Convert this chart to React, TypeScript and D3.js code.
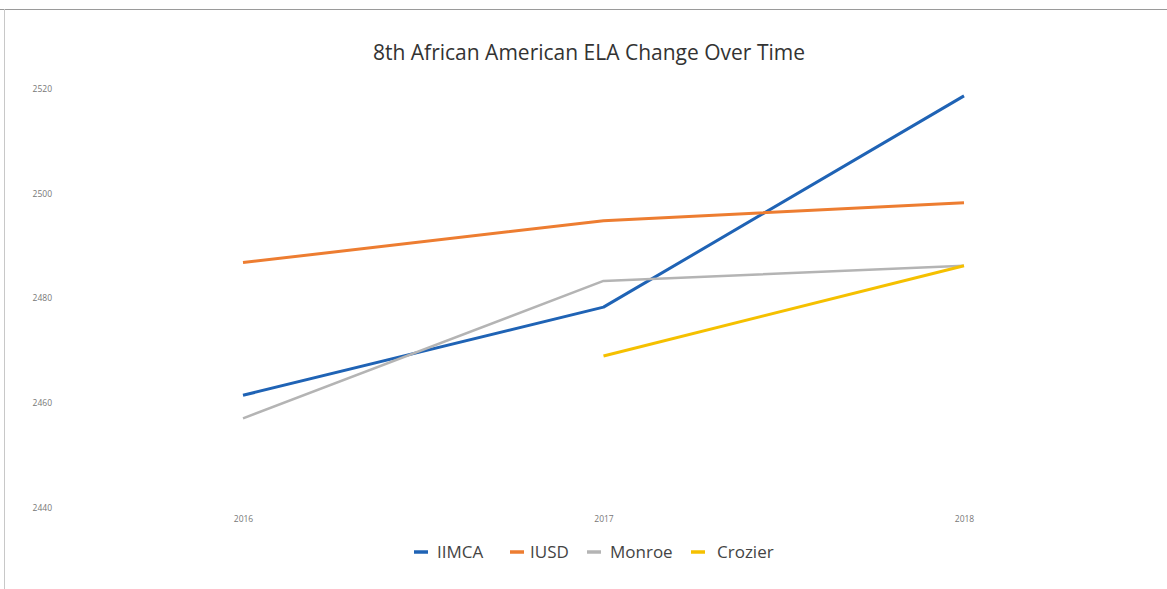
import React, { useEffect, useRef } from "react";
import * as d3 from "d3";

const years = ["2016", "2017", "2018"];
const yTicks = [2440, 2460, 2480, 2500, 2520];
const iimca = [2461.5, 2478.3, 2518.6];
const iusd = [2486.8, 2494.8, 2498.2];
const monroe = [2457.1, 2483.3, 2486.2];
const crozier: (number | null)[] = [null, 2469.0, 2486.2];

const seriesNames = ["IIMCA", "IUSD", "Monroe", "Crozier"];
const seriesColors = ["#1f63b5", "#ed7d31", "#b4b4b4", "#f5c000"];

const W = 1167;
const H = 589;

export default function App() {
  const ref = useRef<SVGSVGElement>(null);
  useEffect(() => {
    const svg = d3.select(ref.current);
    svg.selectAll("*").remove();

    svg.append("rect").attr("width", W).attr("height", H).attr("fill", "#fff");
    // faint scanned border
    svg.append("line").attr("x1", 0).attr("x2", W).attr("y1", 9.5).attr("y2", 9.5)
      .attr("stroke", "#9a9a9a").attr("stroke-width", 1);
    svg.append("line").attr("x1", 4.5).attr("x2", 4.5).attr("y1", 9).attr("y2", H)
      .attr("stroke", "#c8c8c8").attr("stroke-width", 1);

    const x = d3.scalePoint<string>().domain(years).range([243, 964]);
    const y = d3.scaleLinear().domain([2440, 2520]).range([508, 88.5]);

    svg.append("text").attr("x", 589).attr("y", 60).attr("text-anchor", "middle")
      .attr("font-family", "'Open Sans', sans-serif").attr("font-size", 21)
      .attr("fill", "#333").text("8th African American ELA Change Over Time");

    const yAxis = d3.axisLeft(y).tickValues(yTicks).tickSize(0).tickFormat(d3.format("d"));
    const gy = svg.append("g").attr("transform", "translate(55,0)").call(yAxis);
    gy.select(".domain").remove();
    gy.selectAll("text").attr("font-family", "'Open Sans', sans-serif")
      .attr("font-size", 8.5).attr("fill", "#777").attr("dx", 0).attr("dy", "0.32em");

    const xAxis = d3.axisBottom(x).tickSize(0);
    const gx = svg.append("g").attr("transform", "translate(0,513)").call(xAxis);
    gx.select(".domain").remove();
    gx.selectAll("text").attr("font-family", "'Open Sans', sans-serif")
      .attr("font-size", 8.5).attr("fill", "#777").attr("dy", "0.71em");

    const all = [iimca, iusd, monroe, crozier];
    const line = d3.line<number | null>()
      .defined((d) => d != null)
      .x((_, i) => x(years[i]) as number)
      .y((d) => y(d as number));

    all.forEach((s, i) => {
      svg.append("path").datum(s as (number | null)[])
        .attr("d", line)
        .attr("fill", "none")
        .attr("stroke", seriesColors[i])
        .attr("stroke-width", i === 2 ? 2.5 : 3)
        .attr("stroke-linejoin", "round");
    });

    // legend
    const markerX = [414, 510, 587, 691];
    const textX = [437, 530, 610, 717];
    const lg = svg.append("g");
    seriesNames.forEach((n, i) => {
      lg.append("line").attr("x1", markerX[i]).attr("x2", markerX[i] + 14)
        .attr("y1", 552).attr("y2", 552)
        .attr("stroke", seriesColors[i]).attr("stroke-width", 3.5);
      lg.append("text").attr("x", textX[i]).attr("y", 558)
        .attr("font-family", "'Open Sans', sans-serif").attr("font-size", 17)
        .attr("fill", "#444").text(n);
    });
  }, []);
  return (
    <svg ref={ref} width={W} height={H}
      style={{ position: "absolute", left: 0, top: 0, display: "block" }} />
  );
}
